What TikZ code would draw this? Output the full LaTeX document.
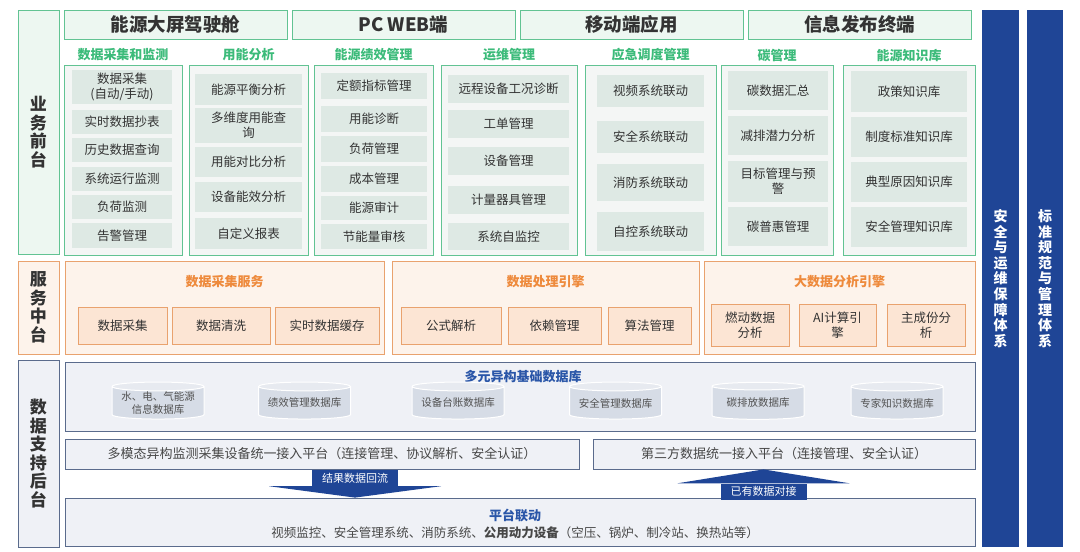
\documentclass[tikz,border=0pt]{standalone}
\usepackage{fontspec}
\setmainfont{Noto Sans CJK SC}
\usepackage{tikz}
\usetikzlibrary{shapes.geometric, positioning, calc}

\definecolor{fgreen}{HTML}{62C393}
\definecolor{tgreen}{HTML}{3CBB7A}
\definecolor{lgreen}{HTML}{EDF7F1}
\definecolor{colbg}{HTML}{F4F6F5}
\definecolor{itembg}{HTML}{DEE9E4}
\definecolor{forange}{HTML}{E9A26E}
\definecolor{torange}{HTML}{EE8A3C}
\definecolor{lorange}{HTML}{FDF3EB}
\definecolor{iorange}{HTML}{FCE5D4}
\definecolor{navy}{HTML}{1F4596}
\definecolor{fslate}{HTML}{5A6B8C}
\definecolor{lslate}{HTML}{EFF1F6}
\definecolor{tblue}{HTML}{2A56A8}
\definecolor{cylbody}{HTML}{D6DCE6}
\definecolor{cyltop}{HTML}{E7EAF0}
\definecolor{txt}{HTML}{333333}

\begin{document}
\begin{tikzpicture}[
    x=1pt, y=-1pt,
    spans/.style args={#1/#2/#3/#4}{at={($(#1,#2)!0.5!(#3,#4)$)},
        minimum width={#3-#1}, minimum height={#4-#2}},
    tierlab/.style={draw, line width=1pt, inner sep=0pt, align=center, text=txt,
        font=\fontsize{17}{18.5}\selectfont\bfseries},
    bizlab/.style={tierlab, draw=fgreen, fill=lgreen},
    svclab/.style={tierlab, draw=forange, fill=lorange},
    datlab/.style={tierlab, draw=fslate, fill=lslate},
    head/.style={draw=fgreen, fill=lgreen, line width=1pt, inner sep=0pt, text=txt,
        font=\fontsize{18.5}{22}\selectfont\bfseries},
    grp/.style={draw=fgreen, fill=colbg, line width=1pt, inner sep=0pt},
    grptitle/.style={font=\fontsize{13}{15}\selectfont\bfseries, text=tgreen, inner sep=1pt},
    itm/.style={fill=itembg, inner sep=0pt, align=center, text=txt,
        font=\fontsize{12.5}{15}\selectfont},
    svc/.style={draw=forange, fill=lorange, line width=1pt, inner sep=0pt},
    svctitle/.style={font=\fontsize{13}{15}\selectfont\bfseries, text=torange},
    svcitm/.style={draw=forange, fill=iorange, line width=1pt, inner sep=0pt, align=center,
        text=txt, font=\fontsize{12.5}{15}\selectfont},
    dbox/.style={draw=fslate, fill=lslate, line width=0.8pt, inner sep=0pt, text=txt!90,
        font=\fontsize{13}{15}\selectfont},
    dbtitle/.style={font=\fontsize{13}{15}\selectfont\bfseries, text=tblue},
    cyl/.style={cylinder, shape border rotate=90, aspect=0.12, draw=white, line width=1pt,
        cylinder uses custom fill, cylinder body fill=cylbody, cylinder end fill=cyltop,
        minimum width=92, minimum height=37, inner sep=0pt, align=center, text=txt!85,
        font=\fontsize{10.5}{12.5}\selectfont},
    bar/.style={fill=navy, inner sep=0pt, align=center, text=white,
        font=\fontsize{14}{15.6}\selectfont\bfseries},
    flow/.style={fill=navy, text=white, inner sep=0pt, minimum width=86, minimum height=16,
        font=\fontsize{11}{13}\selectfont}
]
\useasboundingbox (0,0) rectangle (1080,552);

% business front end
\node[bizlab, spans=18/10/59/254] (biz) {业\\务\\前\\台};
\node[head, spans=64/10/287/39] (h1) {能源大屏驾驶舱};
\node[head, spans=292/10/515/39] (h2) {PC WEB端};
\node[head, spans=520/10/743/39] (h3) {移动端应用};
\node[head, spans=748/10/971/39] (h4) {信息发布终端};

\node[grp, spans=64/65/182/255] (col1) {};
\node[grp, spans=189/65/308/255] (col2) {};
\node[grp, spans=314/65/433/255] (col3) {};
\node[grp, spans=441/65/577/255] (col4) {};
\node[grp, spans=585/65/716/255] (col5) {};
\node[grp, spans=721/65/833/255] (col6) {};
\node[grp, spans=843/65/975/255] (col7) {};

\node[grptitle, above=2pt of col1] {数据采集和监测};
\node[grptitle, above=2pt of col2] {用能分析};
\node[grptitle, above=2pt of col3] {能源绩效管理};
\node[grptitle, above=2pt of col4] {运维管理};
\node[grptitle, above=2pt of col5] {应急调度管理};
\node[grptitle, above=2pt of col6] {碳管理};
\node[grptitle, above=2pt of col7] {能源知识库};

\node[itm, spans=72/70/172/104] (c1a) {数据采集\\(自动/手动)};
\node[itm, spans=72/110/172/134] (c1b) {实时数据抄表};
\node[itm, spans=72/138/172/162] (c1c) {历史数据查询};
\node[itm, spans=72/167/172/191] (c1d) {系统运行监测};
\node[itm, spans=72/195/172/219] (c1e) {负荷监测};
\node[itm, spans=72/223/172/248] (c1f) {告警管理};

\node[itm, spans=195/74/302/105] (c2a) {能源平衡分析};
\node[itm, spans=195/108/302/143] (c2b) {多维度用能查\\询};
\node[itm, spans=195/147/302/177] (c2c) {用能对比分析};
\node[itm, spans=195/182/302/212] (c2d) {设备能效分析};
\node[itm, spans=195/218/302/249] (c2e) {自定义报表};

\node[itm, spans=321/73/427/99] (c3a) {定额指标管理};
\node[itm, spans=321/106/427/132] (c3b) {用能诊断};
\node[itm, spans=321/136/427/162] (c3c) {负荷管理};
\node[itm, spans=321/166/427/192] (c3d) {成本管理};
\node[itm, spans=321/196/427/220] (c3e) {能源审计};
\node[itm, spans=321/224/427/249] (c3f) {节能量审核};

\node[itm, spans=448/75/569/103] (c4a) {远程设备工况诊断};
\node[itm, spans=448/110/569/138] (c4b) {工单管理};
\node[itm, spans=448/147/569/175] (c4c) {设备管理};
\node[itm, spans=448/186/569/214] (c4d) {计量器具管理};
\node[itm, spans=448/223/569/250] (c4e) {系统自监控};

\node[itm, spans=597/75/704/107] (c5a) {视频系统联动};
\node[itm, spans=597/121/704/153] (c5b) {安全系统联动};
\node[itm, spans=597/164/704/201] (c5c) {消防系统联动};
\node[itm, spans=597/212/704/251] (c5d) {自控系统联动};

\node[itm, spans=728/71/828/110] (c6a) {碳数据汇总};
\node[itm, spans=728/116/828/155] (c6b) {减排潜力分析};
\node[itm, spans=728/161/828/202] (c6c) {目标管理与预\\警};
\node[itm, spans=728/207/828/246] (c6d) {碳普惠管理};

\node[itm, spans=851/71/967/112] (c7a) {政策知识库};
\node[itm, spans=851/117/967/157] (c7b) {制度标准知识库};
\node[itm, spans=851/162/967/202] (c7c) {典型原因知识库};
\node[itm, spans=851/207/967/247] (c7d) {安全管理知识库};

% service middle
\node[svclab, spans=18/261/59/354] (svc) {服\\务\\中\\台};
\node[svc, spans=65/261/384/354] (g1) {};
\node[svc, spans=392/261/699/354] (g2) {};
\node[svc, spans=704/261/975/354] (g3) {};
\node[svctitle] (g1t) at (224.5,282) {数据采集服务};
\node[svctitle] (g2t) at (545.5,282) {数据处理引擎};
\node[svctitle] (g3t) at (839.5,282) {大数据分析引擎};

\node[svcitm, spans=78/307/167/344] (s1a) {数据采集};
\node[svcitm, spans=172/307/270/344] (s1b) {数据清洗};
\node[svcitm, spans=275/307/379/344] (s1c) {实时数据缓存};
\node[svcitm, spans=401/307/501/344] (s2a) {公式解析};
\node[svcitm, spans=508/307/601/344] (s2b) {依赖管理};
\node[svcitm, spans=608/307/691/344] (s2c) {算法管理};
\node[svcitm, spans=711/304/789/346] (s3a) {燃动数据\\分析};
\node[svcitm, spans=799/304/876/346] (s3b) {AI计算引\\擎};
\node[svcitm, spans=887/304/965/346] (s3c) {主成份分\\析};

% data backend
\node[datlab, spans=18/360/59/547] (dat) {数\\据\\支\\持\\后\\台};
\node[dbox, spans=65/362/975/431] (db) {};
\node[dbtitle] (dbt) at (523,377) {多元异构基础数据库};
\node[cyl] (db1) at (158,403) {水、电、气能源\\信息数据库};
\node[cyl] (db2) at (304.5,403) {绩效管理数据库};
\node[cyl] (db3) at (458,403) {设备台账数据库};
\node[cyl] (db4) at (615.5,403) {安全管理数据库};
\node[cyl] (db5) at (758,403) {碳排放数据库};
\node[cyl] (db6) at (897,403) {专家知识数据库};

\node[dbox, spans=65/439/579/469] (acc1) {多模态异构监测采集设备统一接入平台（连接管理、协议解析、安全认证）};
\node[dbox, spans=593/439/975/469] (acc2) {第三方数据统一接入平台（连接管理、安全认证）};

\node[dbox, spans=65/498/975/546] (plat) {};
\node[dbtitle] (platt) at (515,515) {平台联动};
\node[text=txt!90, font=\fontsize{12.5}{15}\selectfont] (platl) at (515,533)
    {视频监控、安全管理系统、消防系统、\textbf{公用动力设备}（空压、锅炉、制冷站、换热站等）};

\node[flow] (back) at (355,478) {结果数据回流};
\fill[navy] ($(back.south)+(-86,0)$) -- ($(back.south)+(86,0)$) -- (back.south |- plat.north) -- cycle;
\node[flow] (link) at (763.5,491.5) {已有数据对接};
\fill[navy] ($(link.north)+(-86,0)$) -- ($(link.north)+(86,0)$) -- (link.north |- acc2.south) -- cycle;

% side bars
\node[bar, spans=982/10/1019/547] (ops) {安\\全\\与\\运\\维\\保\\障\\体\\系};
\node[bar, spans=1027/10/1063/547] (std) {标\\准\\规\\范\\与\\管\\理\\体\\系};
\end{tikzpicture}
\end{document}
